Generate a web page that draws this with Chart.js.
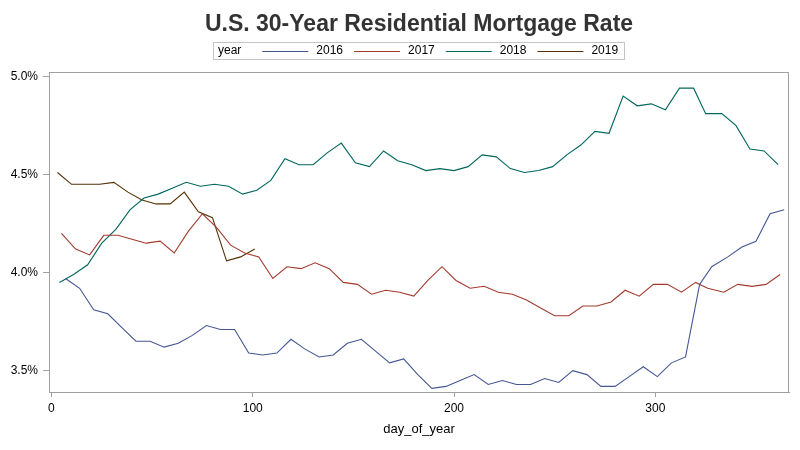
<!DOCTYPE html>
<html>
<head>
<meta charset="utf-8">
<title>U.S. 30-Year Residential Mortgage Rate</title>
<script src="https://cdn.jsdelivr.net/npm/chart.js@4.4.1/dist/chart.umd.min.js"></script>
<style>
    html, body { margin: 0; padding: 0; background: #fff; }
    #wrap { width: 800px; height: 450px; position: relative; }
</style>
</head>
<body>
<div id="wrap"><canvas id="chart"></canvas></div>
<script>
// Weekly 30-year fixed rate, x = day of year
const days2016 = [7, 14, 21, 28, 35, 42, 49, 56, 63, 70, 77, 84, 91, 98, 105, 112, 119, 126, 133, 140, 147, 154, 161, 168, 175, 182, 189, 196, 203, 210, 217, 224, 231, 238, 245, 252, 259, 266, 273, 280, 287, 294, 301, 308, 315, 322, 328, 336, 343, 350, 357, 364];
const rates2016 = [3.97, 3.92, 3.81, 3.79, 3.72, 3.65, 3.65, 3.62, 3.64, 3.68, 3.73, 3.71, 3.71, 3.59, 3.58, 3.59, 3.66, 3.61, 3.57, 3.58, 3.64, 3.66, 3.60, 3.54, 3.56, 3.48, 3.41, 3.42, 3.45, 3.48, 3.43, 3.45, 3.43, 3.43, 3.46, 3.44, 3.50, 3.48, 3.42, 3.42, 3.47, 3.52, 3.47, 3.54, 3.57, 3.94, 4.03, 4.08, 4.13, 4.16, 4.30, 4.32];

const days2017 = [5, 12, 19, 26, 33, 40, 47, 54, 61, 68, 75, 82, 89, 96, 103, 110, 117, 124, 131, 138, 145, 152, 159, 166, 173, 180, 187, 194, 201, 208, 215, 222, 229, 236, 243, 250, 257, 264, 271, 278, 285, 292, 299, 306, 313, 320, 326, 334, 341, 348, 355, 362];
const rates2017 = [4.20, 4.12, 4.09, 4.19, 4.19, 4.17, 4.15, 4.16, 4.10, 4.21, 4.30, 4.23, 4.14, 4.10, 4.08, 3.97, 4.03, 4.02, 4.05, 4.02, 3.95, 3.94, 3.89, 3.91, 3.90, 3.88, 3.96, 4.03, 3.96, 3.92, 3.93, 3.90, 3.89, 3.86, 3.82, 3.78, 3.78, 3.83, 3.83, 3.85, 3.91, 3.88, 3.94, 3.94, 3.90, 3.95, 3.92, 3.90, 3.94, 3.93, 3.94, 3.99];

const days2018 = [4, 11, 18, 25, 32, 39, 46, 53, 60, 67, 74, 81, 88, 95, 102, 109, 116, 123, 130, 137, 144, 151, 158, 165, 172, 179, 186, 193, 200, 207, 214, 221, 228, 235, 242, 249, 256, 263, 270, 277, 284, 291, 298, 305, 312, 319, 325, 333, 340, 347, 354, 361];
const rates2018 = [3.95, 3.99, 4.04, 4.15, 4.22, 4.32, 4.38, 4.40, 4.43, 4.46, 4.44, 4.45, 4.44, 4.40, 4.42, 4.47, 4.58, 4.55, 4.55, 4.61, 4.66, 4.56, 4.54, 4.62, 4.57, 4.55, 4.52, 4.53, 4.52, 4.54, 4.60, 4.59, 4.53, 4.51, 4.52, 4.54, 4.60, 4.65, 4.72, 4.71, 4.90, 4.85, 4.86, 4.83, 4.94, 4.94, 4.81, 4.81, 4.75, 4.63, 4.62, 4.55];

const days2019 = [3, 10, 17, 24, 31, 38, 45, 52, 59, 66, 73, 80, 87, 94, 101];
const rates2019 = [4.51, 4.45, 4.45, 4.45, 4.46, 4.41, 4.37, 4.35, 4.35, 4.41, 4.31, 4.28, 4.06, 4.08, 4.12];

const yearLabels = ['2016', '2017', '2018', '2019'];
const xTicks = [0, 100, 200, 300];
const yTicks = [3.5, 4.0, 4.5, 5.0];

const FONT = "Arial, 'Liberation Sans', sans-serif";
const colors = ['#445694', '#A23A2E', '#01665E', '#543005'];
const frameColor = '#a0a0a0';

Chart.defaults.font.family = FONT;
Chart.defaults.color = '#000';

function toPoints(days, rates) {
    return days.map((d, i) => ({ x: d, y: rates[i] }));
}

const series = [
    toPoints(days2016, rates2016),
    toPoints(days2017, rates2017),
    toPoints(days2018, rates2018),
    toPoints(days2019, rates2019)
];

// Title, boxed legend and plot frame drawn by hand
const decorPlugin = {
    id: 'decor',
    beforeDatasetsDraw(chart) {
        const { ctx, chartArea: a } = chart;
        ctx.save();
        ctx.strokeStyle = frameColor;
        ctx.lineWidth = 1;
        ctx.strokeRect(Math.round(a.left) + 0.5, Math.round(a.top) + 0.5,
            Math.round(a.right - a.left) - 1, Math.round(a.bottom - a.top));
        ctx.restore();
    },
    afterDraw(chart) {
        const { ctx, chartArea: a } = chart;
        const cx = (a.left + a.right) / 2;
        ctx.save();

        // title
        ctx.font = 'bold 23px ' + FONT;
        ctx.fillStyle = '#333';
        ctx.textAlign = 'center';
        ctx.textBaseline = 'alphabetic';
        ctx.fillText('U.S. 30-Year Residential Mortgage Rate', cx, 30.5);

        // legend
        ctx.font = '12px ' + FONT;
        const lineLen = 46, gapAfterLine = 8, gapBetween = 11;
        const wYear = ctx.measureText('year').width;
        let total = 5 + wYear + 21 + 6;
        chart.data.datasets.forEach((ds, i) => {
            total += lineLen + gapAfterLine + ctx.measureText(ds.label).width;
            if (i > 0) total += gapBetween;
        });
        const left = Math.round(cx - total / 2);
        const top = 42, h = 17, midY = top + h / 2 + 0.5;
        ctx.strokeStyle = '#c4c4c4';
        ctx.strokeRect(left + 0.5, top + 0.5, Math.round(total), h);

        ctx.fillStyle = '#000';
        ctx.textAlign = 'left';
        ctx.textBaseline = 'middle';
        let x = left + 5;
        ctx.fillText('year', x, midY);
        x += wYear + 21;
        chart.data.datasets.forEach((ds, i) => {
            if (i > 0) x += gapBetween;
            ctx.strokeStyle = ds.borderColor;
            ctx.lineWidth = 1;
            ctx.beginPath();
            ctx.moveTo(x, Math.round(midY) + 0.5);
            ctx.lineTo(x + lineLen, Math.round(midY) + 0.5);
            ctx.stroke();
            x += lineLen + gapAfterLine;
            ctx.fillText(ds.label, x, midY);
            x += ctx.measureText(ds.label).width;
        });
        ctx.restore();
    }
};

new Chart(document.getElementById('chart'), {
    type: 'line',
    data: {
        datasets: series.map((pts, i) => ({
            label: yearLabels[i],
            data: pts,
            borderColor: colors[i],
            backgroundColor: colors[i],
            borderWidth: 1.1,
            pointRadius: 0,
            tension: 0,
            fill: false
        }))
    },
    options: {
        responsive: true,
        maintainAspectRatio: false,
        animation: false,
        layout: { padding: { top: 72, right: 11, bottom: 0, left: 0 } },
        plugins: {
            legend: { display: false },
            title: { display: false },
            tooltip: { enabled: false }
        },
        scales: {
            x: {
                type: 'linear',
                min: -1.2,
                max: 366.4,
                afterBuildTicks: axis => { axis.ticks = xTicks.map(v => ({ value: v })); },
                afterFit: axis => { axis.height = 58; },
                grid: { drawOnChartArea: false, color: frameColor, tickLength: 5 },
                border: { color: frameColor },
                ticks: { font: { size: 12 }, color: '#000', padding: 4, maxRotation: 0 },
                title: {
                    display: true,
                    text: 'day_of_year',
                    font: { size: 13 },
                    color: '#000',
                    padding: { top: 0, bottom: 13 }
                }
            },
            y: {
                min: 3.3914,
                max: 5.0224,
                afterBuildTicks: axis => { axis.ticks = yTicks.map(v => ({ value: v })); },
                afterFit: axis => { axis.width = 49; },
                grid: { drawOnChartArea: false, color: frameColor, tickLength: 6 },
                border: { color: frameColor },
                ticks: {
                    font: { size: 12 },
                    color: '#000',
                    padding: 5,
                    callback: v => v.toFixed(1) + '%'
                }
            }
        }
    },
    plugins: [decorPlugin]
});
</script>
</body>
</html>
